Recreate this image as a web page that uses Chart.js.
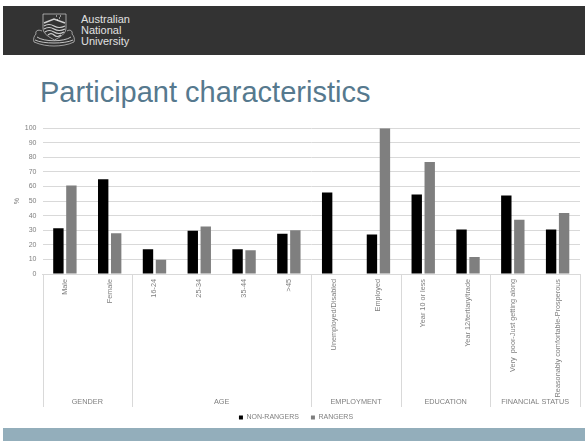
<!DOCTYPE html>
<html>
<head>
<meta charset="utf-8">
<title>Participant characteristics</title>
<script src="https://cdn.jsdelivr.net/npm/chart.js@4/dist/chart.umd.min.js"></script>
<style>
    html, body { margin: 0; padding: 0; background: #fff; overflow: hidden; }
    body { width: 585px; height: 441px; position: relative; font-family: "Liberation Sans", Arial, sans-serif; }
    #header { position: absolute; left: 3px; top: 6px; width: 582px; height: 49px; background: #333333; }
    #crest { position: absolute; left: 30px; top: 6px; }
    #wordmark { position: absolute; left: 78px; top: 7.5px; color: #e0e0e0; font-size: 11px; line-height: 11px; }
    #title { position: absolute; left: 40px; top: 76px; font-size: 29px; line-height: 32px; color: #56798e; white-space: nowrap; }
    #footer { position: absolute; left: 3px; top: 428px; width: 582px; height: 13px; background: #93aebb; }
    #chart { position: absolute; left: 0; top: 118px; }
</style>
</head>
<body>
<div id="header">
    <svg id="crest" width="44" height="36" viewBox="0 0 44 36" fill="none" stroke="#d0d0d0" stroke-width="0.7">
        <path d="M10 2 H33 V16 C33 22 27 25 21.5 28 C16 25 10 22 10 16 Z"/>
        <path d="M11 11 L21 7 L32 11" stroke-width="1.4"/>
        <path d="M11 14 Q16 11 21 14 T32 14 M11 17 Q16 14 21 17 T32 17 M12 20 Q16 17 21 20 T31 20 M15 23 Q18 20 21 23 T28 23" stroke-width="1.2"/>
        <path d="M23 4 h1 M27 4 h1 M26 6 h1 M24 8 h1" stroke="#fff" stroke-width="1.1"/>
        <path d="M9 19 C5 17 2 19 3 22 C1 24 0 27 1 30 C8 33 15 34 21 34 C27 34 35 33 41 30 C42 27 41 24 39 22 C40 19 37 17 34 19"/>
        <path d="M4 25 C11 30 31 30 38 25 M2 28 C10 32 32 32 40 28" stroke-width="0.9"/>
    </svg>
    <div id="wordmark">Australian<br>National<br>University</div>
</div>
<div id="title">Participant characteristics</div>
<canvas id="chart" width="585" height="313"></canvas>
<div id="footer"></div>
<script>
    const categories = ["Male", "Female", "16-24", "25-34", "35-44", ">45", "Unemployed/Disabled", "Employed", "Year 10 or less", "Year 12/tertiary/trade", "Very  poor-Just getting along", "Reasonably comfortable-Prosperous"];
    const nonRangers = [31.3, 65, 17, 29.7, 17, 27.6, 55.9, 27.1, 54.5, 30.6, 53.8, 30.6];
    const rangers = [60.7, 28, 9.7, 32.6, 16.3, 30, 0, 100, 76.8, 11.7, 37.2, 41.8];
    const groupNames = ["GENDER", "AGE", "EMPLOYMENT", "EDUCATION", "FINANCIAL STATUS"];
    const groupSizes = [2, 4, 2, 2, 2];

    const lineColor = "#d9d9d9";
    const textColor = "#7f7f7f";
    const font = { family: "'Liberation Sans', Arial, sans-serif", size: 7 };
    const labelFont = { family: font.family, size: 7.3 };
    const axisHeight = 133;

    // second level of the category axis: separators and group captions
    const groupAxis = {
        id: "groupAxis",
        afterDraw(chart) {
            const ctx = chart.ctx;
            const x = chart.scales.x;
            const top = chart.chartArea.bottom;
            const step = x.width / categories.length;
            let start = 0;
            ctx.save();
            ctx.strokeStyle = lineColor;
            ctx.lineWidth = 1;
            ctx.fillStyle = textColor;
            ctx.font = `${labelFont.size}px ${labelFont.family}`;
            ctx.textAlign = "center";
            ctx.textBaseline = "middle";
            const edge = px => {
                ctx.beginPath();
                ctx.moveTo(Math.round(px) + 0.5, top);
                ctx.lineTo(Math.round(px) + 0.5, top + axisHeight);
                ctx.stroke();
            };
            edge(x.left);
            groupSizes.forEach((size, i) => {
                const left = x.left + start * step;
                const right = left + size * step;
                edge(right);
                ctx.fillText(groupNames[i], (left + right) / 2, top + axisHeight - 5);
                start += size;
            });
            ctx.restore();
        }
    };

    new Chart(document.getElementById("chart"), {
        type: "bar",
        plugins: [groupAxis],
        data: {
            labels: categories,
            datasets: [
                { label: "NON-RANGERS", data: nonRangers, backgroundColor: "#000000" },
                { label: "RANGERS", data: rangers, backgroundColor: "#7f7f7f" }
            ]
        },
        options: {
            responsive: false,
            animation: false,
            layout: { padding: { top: 6, right: 5, bottom: 0, left: 12 } },
            datasets: { bar: { categoryPercentage: 0.58, barPercentage: 0.8 } },
            scales: {
                x: {
                    grid: { display: false },
                    border: { color: lineColor },
                    afterFit(scale) { scale.height = axisHeight - 5; },
                    ticks: {
                        autoSkip: false,
                        minRotation: 90,
                        maxRotation: 90,
                        color: textColor,
                        font: labelFont,
                        padding: -3
                    }
                },
                y: {
                    min: 0,
                    max: 100,
                    afterFit(scale) { scale.width = 30.5; },
                    grid: { color: lineColor, drawTicks: false },
                    border: { display: false },
                    title: { display: true, text: "%", color: textColor, font: font, padding: { top: 1, bottom: 0 } },
                    ticks: { stepSize: 10, color: textColor, font: font, padding: 6 }
                }
            },
            plugins: {
                tooltip: { enabled: false },
                legend: {
                    position: "bottom",
                    labels: { boxWidth: 4, boxHeight: 4, padding: 12, color: textColor, font: font }
                }
            }
        }
    });
</script>
</body>
</html>
